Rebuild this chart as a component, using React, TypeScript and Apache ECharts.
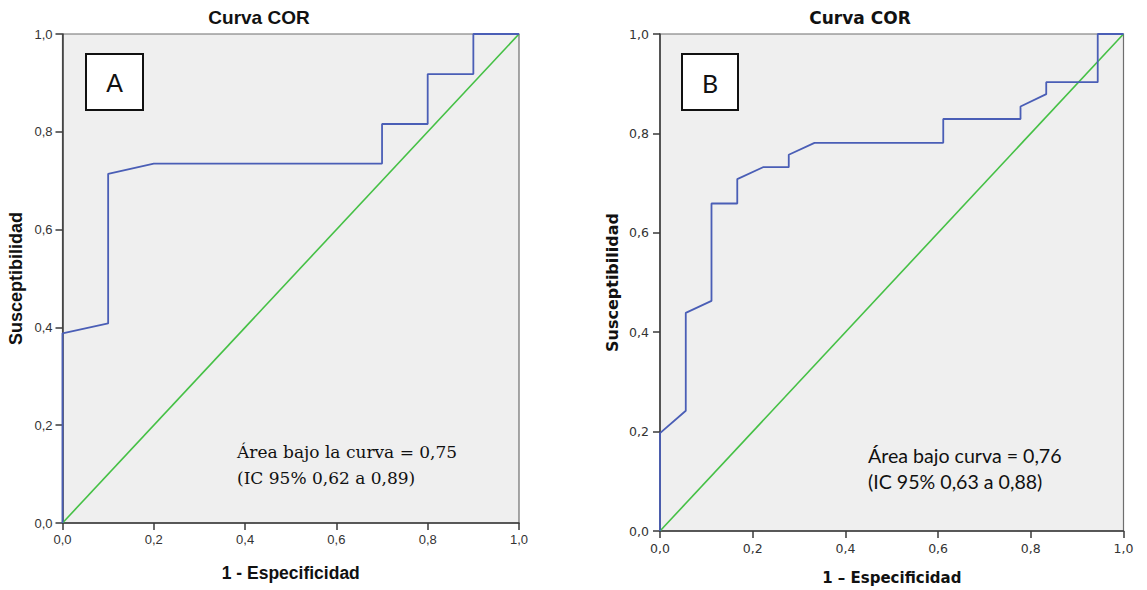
import React, { useEffect, useRef } from "react";
import * as echarts from "echarts";

// ---- Data ----
const tickValues = [0, 0.2, 0.4, 0.6, 0.8, 1.0];
const titleText = "Curva COR";
const yAxisTitle = "Susceptibilidad";
const xAxisTitleA = "1 - Especificidad";
const xAxisTitleB = "1 – Especificidad";

// Panel A ROC curve
const rocA_fpr = [0, 0, 0.1, 0.1, 0.2, 0.7, 0.7, 0.8, 0.8, 0.9, 0.9, 1];
const rocA_tpr = [0, 0.388, 0.408, 0.714, 0.735, 0.735, 0.816, 0.816, 0.918, 0.918, 1, 1];
const annotA = ["Área bajo la curva = 0,75", "(IC 95% 0,62 a 0,89)"];

// Panel B ROC curve
const rocB_fpr = [0, 0, 0.0556, 0.0556, 0.1111, 0.1111, 0.1667, 0.1667, 0.2222, 0.2778, 0.2778, 0.3333, 0.6111, 0.6111, 0.7778, 0.7778, 0.8333, 0.8333, 0.9444, 0.9444, 1];
const rocB_tpr = [0, 0.197, 0.242, 0.439, 0.463, 0.659, 0.659, 0.708, 0.732, 0.732, 0.757, 0.781, 0.781, 0.829, 0.829, 0.854, 0.879, 0.903, 0.903, 1, 1];
const annotB = ["Área bajo curva = 0,76", "(IC 95% 0,63 a 0,88)"];

// Reference (chance) line
const refLine_x = [0, 1];
const refLine_y = [0, 1];

const BLUE = "#4a5eb6";
const GREEN = "#45c045";
const fmt = (v: number) => v.toFixed(1).replace(".", ",");

function zip(xs: number[], ys: number[]) {
  return xs.map((x, i) => [x, ys[i]]);
}

export default function App() {
  const ref = useRef<HTMLDivElement>(null);

  useEffect(() => {
    if (!ref.current) return;
    const chart = echarts.init(ref.current, null, { renderer: "svg" });

    const makeX = (idx: number, name: string, font: string, fs: number, nfs: number, nameGap: number, margin: number) => ({
      type: "value",
      gridIndex: idx,
      min: 0,
      max: 1,
      interval: 0.2,
      name,
      nameLocation: "middle",
      nameGap,
      nameTextStyle: { fontFamily: font, fontWeight: "bold", fontSize: nfs, color: "#111" },
      axisLine: { show: true, onZero: false, lineStyle: { color: "#3a3a3a", width: 1.5 } },
      axisTick: { show: true, inside: false, length: 7, lineStyle: { color: "#3a3a3a", width: 1.5 } },
      axisLabel: { formatter: fmt, fontFamily: font, fontSize: fs, color: "#333", margin },
      splitLine: { show: false },
    });
    const makeY = (idx: number, font: string, fs: number, nfs: number, nameGap: number, margin: number) => ({
      type: "value",
      gridIndex: idx,
      min: 0,
      max: 1,
      interval: 0.2,
      name: yAxisTitle,
      nameLocation: "middle",
      nameRotate: 90,
      nameGap,
      nameTextStyle: { fontFamily: font, fontWeight: "bold", fontSize: nfs, color: "#111" },
      axisLine: { show: true, onZero: false, lineStyle: { color: "#3a3a3a", width: 1.5 } },
      axisTick: { show: true, inside: false, length: 7, lineStyle: { color: "#3a3a3a", width: 1.5 } },
      axisLabel: { formatter: fmt, fontFamily: font, fontSize: fs, color: "#333", margin },
      splitLine: { show: false },
    });

    const option: any = {
      animation: false,
      backgroundColor: "#ffffff",
      grid: [
        { left: 62.5, top: 34, width: 456.5, height: 489, show: true, backgroundColor: "#efefef", borderColor: "#6e6e6e", borderWidth: 1.2 },
        { left: 660, top: 34, width: 463.5, height: 498, show: true, backgroundColor: "#efefef", borderColor: "#6e6e6e", borderWidth: 1.2 },
      ],
      xAxis: [
        makeX(0, xAxisTitleA, "Liberation Sans", 13, 17.5, 41, 10),
        makeX(1, xAxisTitleB, "DejaVu Sans", 12.5, 15, 39, 11),
      ],
      yAxis: [
        makeY(0, "Liberation Sans", 13, 18, 38, 10),
        makeY(1, "DejaVu Sans", 12.5, 16, 40, 11),
      ],
      series: [
        { type: "line", xAxisIndex: 0, yAxisIndex: 0, data: zip(refLine_x, refLine_y), showSymbol: false, lineStyle: { color: GREEN, width: 1.6 }, z: 3 },
        { type: "line", xAxisIndex: 0, yAxisIndex: 0, data: zip(rocA_fpr, rocA_tpr), showSymbol: false, clip: false, lineStyle: { color: BLUE, width: 1.8 }, z: 4 },
        { type: "line", xAxisIndex: 1, yAxisIndex: 1, data: zip(refLine_x, refLine_y), showSymbol: false, lineStyle: { color: GREEN, width: 1.6 }, z: 3 },
        { type: "line", xAxisIndex: 1, yAxisIndex: 1, data: zip(rocB_fpr, rocB_tpr), showSymbol: false, clip: false, lineStyle: { color: BLUE, width: 1.8 }, z: 4 },
      ],
      graphic: [
        // titles
        { type: "text", x: 259, y: 17, style: { text: titleText, fontFamily: "Liberation Sans", fontWeight: "bold", fontSize: 19, fill: "#111", textAlign: "center", textVerticalAlign: "middle" } },
        { type: "text", x: 860, y: 18, style: { text: titleText, fontFamily: "DejaVu Sans", fontWeight: "bold", fontSize: 17, fill: "#111", textAlign: "center", textVerticalAlign: "middle" } },
        // panel letters
        { type: "rect", shape: { x: 86, y: 54, width: 57, height: 56 }, style: { fill: "#ffffff", stroke: "#111", lineWidth: 2 }, z: 10 },
        { type: "text", x: 114.5, y: 83, style: { text: "A", fontFamily: "Liberation Sans", fontSize: 25, fill: "#111", textAlign: "center", textVerticalAlign: "middle" }, z: 11 },
        { type: "rect", shape: { x: 682, y: 54, width: 56, height: 56 }, style: { fill: "#ffffff", stroke: "#111", lineWidth: 2 }, z: 10 },
        { type: "text", x: 710, y: 83, style: { text: "B", fontFamily: "Lato", fontSize: 25, fill: "#111", textAlign: "center", textVerticalAlign: "middle" }, z: 11 },
        // annotations
        { type: "text", x: 237, y: 452, style: { text: annotA[0], fontFamily: "DejaVu Serif", fontSize: 17, fill: "#111", textAlign: "left", textVerticalAlign: "middle" }, z: 11 },
        { type: "text", x: 237, y: 478, style: { text: annotA[1], fontFamily: "DejaVu Serif", fontSize: 17, fill: "#111", textAlign: "left", textVerticalAlign: "middle" }, z: 11 },
        { type: "text", x: 868, y: 455, style: { text: annotB[0], fontFamily: "Lato", fontSize: 19.6, fill: "#111", textAlign: "left", textVerticalAlign: "middle" }, z: 11 },
        { type: "text", x: 868, y: 481, style: { text: annotB[1], fontFamily: "Lato", fontSize: 19.6, fill: "#111", textAlign: "left", textVerticalAlign: "middle" }, z: 11 },
      ],
    };

    chart.setOption(option);
    return () => chart.dispose();
  }, []);

  return (
    <div
      ref={ref}
      style={{ position: "fixed", left: 0, top: 0, width: 1147, height: 590, background: "#fff" }}
    />
  );
}
